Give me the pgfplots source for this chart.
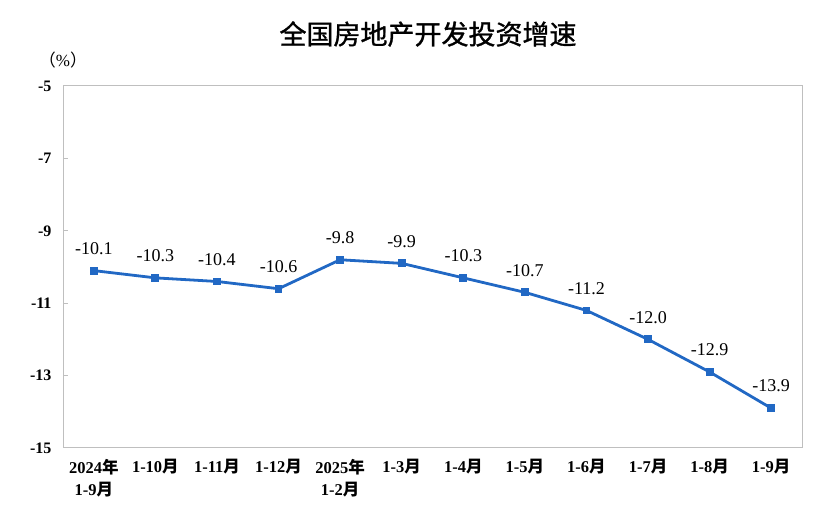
\documentclass[border=0pt]{standalone}
\usepackage{pgfplots}
\pgfplotsset{compat=1.18}
\usepackage{fontspec}
\setmainfont{Liberation Serif}
\newfontfamily\cjk{Noto Sans CJK SC}
\newfontfamily\cjkb{Noto Sans CJK SC}[FakeBold=1.2]
\definecolor{lineblue}{RGB}{33,104,196}
\definecolor{axisgray}{RGB}{191,191,191}
\begin{document}
\begin{tikzpicture}[x=1pt,y=1pt]
\path[use as bounding box] (0,0) rectangle (832,516);
\begin{axis}[
  at={(63pt,68pt)}, anchor=south west,
  scale only axis, width=739pt, height=362pt,
  xmin=-0.5, xmax=11.5, ymin=-15, ymax=-5,
  axis line style={axisgray, line width=1pt},
  xtick={0,...,11},
  xticklabels={{2024{\cjk 年}\\1-9{\cjk 月}},1-10{\cjk 月},1-11{\cjk 月},1-12{\cjk 月},{2025{\cjk 年}\\1-2{\cjk 月}},1-3{\cjk 月},1-4{\cjk 月},1-5{\cjk 月},1-6{\cjk 月},1-7{\cjk 月},1-8{\cjk 月},1-9{\cjk 月}},
  xticklabel style={align=center, font=\fontsize{16.5}{22}\selectfont\bfseries, yshift=-8pt},
  xtick style={draw=none},
  minor xtick={0.5,1.5,...,10.5},
  minor tick length=6pt,
  minor tick style={axisgray, line width=1pt},
  xtick pos=bottom, ytick pos=left,
  ytick={-15,-13,-11,-9,-7,-5},
  yticklabels={-15,-13,-11,-9,-7,-5},
  yticklabel style={font=\fontsize{16}{18}\selectfont\bfseries, xshift=-8pt},
  major tick length=5pt,
  ytick style={axisgray, line width=1pt},
  tick align=inside,
  clip=false,
  nodes near coords,
  point meta=explicit symbolic,
  every node near coord/.append style={font=\fontsize{18}{20}\selectfont, anchor=south, inner sep=0pt, yshift=16pt, text=black},
]
\addplot[color=lineblue, line width=2.8pt, mark=square*, mark size=3.4pt, mark options={fill=lineblue, draw=lineblue, line width=0pt}] table[meta=label] {
x y label
0 -10.1 -10.1
1 -10.3 -10.3
2 -10.4 -10.4
3 -10.6 -10.6
4 -9.8 -9.8
5 -9.9 -9.9
6 -10.3 -10.3
7 -10.7 -10.7
8 -11.2 -11.2
9 -12.0 -12.0
10 -12.9 -12.9
11 -13.9 -13.9
};
\end{axis}
\node[font=\cjkb\fontsize{27}{30}\selectfont] at (428,482) {全国房地产开发投资增速};
\node[font=\fontsize{17}{20}\selectfont] at (63,456) {{\cjk （}\%{\cjk ）}};
\end{tikzpicture}
\end{document}
